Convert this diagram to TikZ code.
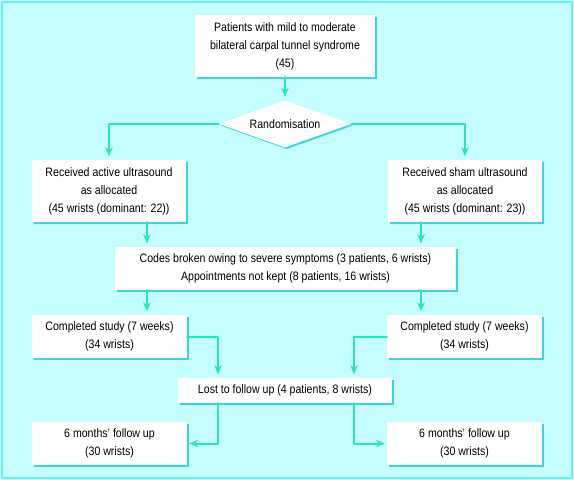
\documentclass[tikz,border=0pt]{standalone}
\usepackage{fontspec}
\setmainfont{Liberation Sans}[FakeStretch=0.867]
\usetikzlibrary{shapes.geometric,shadows,arrows.meta}
\definecolor{bgcyan}{HTML}{C6FEFE}
\definecolor{framecyan}{HTML}{66F0F0}
\definecolor{shadecyan}{HTML}{3CD6DA}
\definecolor{flowgreen}{HTML}{2AE8B4}
\tikzset{
	box/.style={fill=white,inner sep=0pt,align=center,font=\fontsize{12.2}{18}\selectfont,
		drop shadow={shadow xshift=1.6pt,shadow yshift=-1.6pt,fill=shadecyan,opacity=1}},
	flow/.style={draw=flowgreen,line width=2pt,->,shorten >=3.5pt}
}

\begin{document}
\begin{tikzpicture}[line cap=round,line join=round,>={Stealth[length=9pt,width=7.5pt]},x=1pt,y=-1pt]
		\useasboundingbox (0,0) rectangle (574,480);
		\fill [bgcyan] (0,0) rectangle (574,480);
		\draw [framecyan,line width=2pt] (2,2) rectangle (572,478);
		% boxes
		\node[box,minimum width=180pt,minimum height=62pt] (pat) at (285,46) {Patients with mild to moderate\\bilateral carpal tunnel syndrome\\(45)};
		\node[box,diamond,aspect=2.2,minimum width=132pt,minimum height=47pt] (rand) at (285,124) {Randomisation};
		\node[box,minimum width=154pt,minimum height=62pt] (recA) at (109,191) {Received active ultrasound\\as allocated\\(45 wrists (dominant: 22))};
		\node[box,minimum width=154pt,minimum height=62pt] (recS) at (465,191) {Received sham ultrasound\\as allocated\\(45 wrists (dominant: 23))};
		\node[box,minimum width=341pt,minimum height=43pt] (codes) at (285.5,268.5) {Codes broken owing to severe symptoms (3 patients, 6 wrists)\\Appointments not kept (8 patients, 16 wrists)};
		\node[box,minimum width=155pt,minimum height=43pt] (compA) at (109.5,336.5) {Completed study (7 weeks)\\(34 wrists)};
		\node[box,minimum width=155pt,minimum height=43pt] (compS) at (464.5,336.5) {Completed study (7 weeks)\\(34 wrists)};
		\node[box,minimum width=214pt,minimum height=25pt] (lost) at (285,390.5) {Lost to follow up (4 patients, 8 wrists)};
		\node[box,minimum width=155pt,minimum height=43pt] (fuA) at (109.5,443.5) {6 months' follow up\\(30 wrists)};
		\node[box,minimum width=155pt,minimum height=43pt] (fuS) at (464.5,443.5) {6 months' follow up\\(30 wrists)};
		% connectors
		\draw [flow] (pat.south) -- (rand.north);
		\draw [flow] (rand.west) -| (recA.north);
		\draw [flow] (rand.east) -| (recS.north);
		\draw [flow] ([xshift=38pt]recA.south) -- ([xshift=38pt]recA.south |- codes.north);
		\draw [flow] ([xshift=-44pt]recS.south) -- ([xshift=-44pt]recS.south |- codes.north);
		\draw [flow] ([xshift=37.5pt]compA.north |- codes.south) -- ([xshift=37.5pt]compA.north);
		\draw [flow] ([xshift=-43.5pt]compS.north |- codes.south) -- ([xshift=-43.5pt]compS.north);
		\draw [flow] (compA.east) -| ([xshift=-67pt]lost.north);
		\draw [flow] (compS.west) -| ([xshift=69pt]lost.north);
		\draw [flow,shorten >=2pt] ([xshift=-67pt]lost.south) |- (fuA.east);
		\draw [flow,shorten >=2pt] ([xshift=69pt]lost.south) |- (fuS.west);
	\end{tikzpicture}
\end{document}
